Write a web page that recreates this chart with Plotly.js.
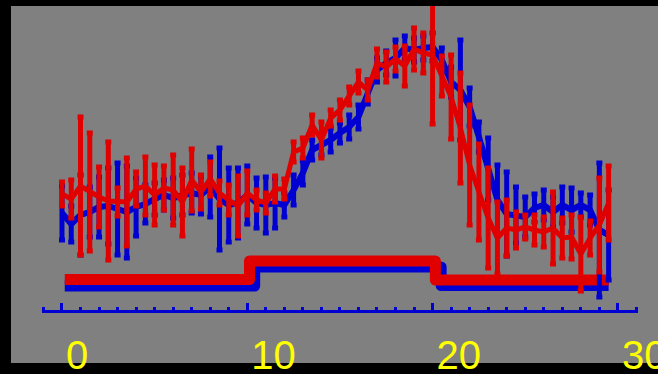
<!DOCTYPE html>
<html>
<head>
<meta charset="utf-8">
<script src="https://cdn.plot.ly/plotly-3.0.1.min.js"></script>
<style>
  html, body { margin: 0; padding: 0; background: #000; }
  #chart { width: 658px; height: 374px; }
  .tracestepred .js-line, .tracestepblue .js-line { stroke-linejoin: round; }
</style>
</head>
<body>
<div id="chart"></div>
<script>
// Sample times (one sample every half unit)
const times = [
  0, 0.5, 1, 1.5, 2, 2.5, 3, 3.5, 4, 4.5,
  5, 5.5, 6, 6.5, 7, 7.5, 8, 8.5, 9, 9.5,
  10, 10.5, 11, 11.5, 12, 12.5, 13, 13.5, 14, 14.5,
  15, 15.5, 16, 16.5, 17, 17.5, 18, 18.5, 19, 19.5,
  20, 20.5, 21, 21.5, 22, 22.5, 23, 23.5, 24, 24.5,
  25, 25.5, 26, 26.5, 27, 27.5, 28, 28.5, 29, 29.5
];

// Blue response: mean and error
const blueMean = [
  9.85, 8.75, 9.65, 9.95, 10.45, 10.55, 10.25, 9.95, 10.45, 10.75,
  11.25, 11.65, 11.35, 11.65, 11.85, 11.65, 12.45, 11.25, 10.65, 10.85,
  11.65, 10.85, 10.65, 10.85, 10.65, 12.15, 13.85, 16.15, 16.65, 17.15,
  17.85, 18.45, 19.45, 21.95, 24.15, 24.85, 25.35, 26.35, 26.15, 26.35,
  26.45, 25.15, 22.95, 22.15, 20.45, 17.45, 14.25, 11.15, 9.75, 9.65,
  9.45, 10.35, 10.65, 9.95, 10.65, 10.15, 10.65, 10.15, 8.15, 7.65
];
const blueErr = [
  2.7, 1.8, 4.0, 2.5, 3.0, 3.8, 4.6, 4.6, 2.9, 1.9,
  1.6, 1.5, 2.0, 2.0, 2.0, 1.9, 3.0, 5.1, 3.7, 3.5,
  2.9, 2.5, 2.8, 2.5, 1.2, 1.5, 1.2, 1.0, 1.0, 1.2,
  1.0, 1.2, 1.2, 1.2, 1.2, 1.2, 1.8, 1.2, 1.2, 1.2,
  1.4, 1.2, 1.5, 5.0, 1.9, 1.5, 3.1, 3.5, 4.2, 2.8,
  2.0, 1.4, 1.5, 1.5, 1.8, 2.2, 1.2, 1.5, 6.7, 4.5
];

// Red response: mean and error
const redMean = [
  11.75, 11.25, 12.55, 11.95, 11.45, 11.05, 10.95, 10.95, 12.25, 12.55,
  11.65, 12.35, 12.15, 10.95, 13.15, 11.95, 13.25, 11.85, 11.15, 10.55,
  11.85, 11.15, 10.85, 12.25, 12.25, 15.95, 16.35, 18.65, 17.15, 19.35,
  20.15, 21.55, 22.95, 22.15, 24.85, 24.45, 25.25, 24.55, 26.25, 25.85,
  25.65, 23.55, 21.45, 18.35, 14.65, 11.95, 9.35, 7.35, 8.35, 8.15,
  8.45, 8.15, 7.95, 8.35, 7.35, 7.45, 5.75, 7.35, 8.65, 10.85
];
const redErr = [
  1.2, 1.9, 6.9, 5.9, 3.0, 5.9, 1.4, 4.4, 1.7, 2.9,
  3.0, 2.2, 3.5, 3.4, 3.1, 1.7, 1.7, 1.2, 1.5, 3.0,
  2.2, 1.0, 1.0, 1.3, 1.0, 1.0, 1.0, 1.0, 1.8, 0.8,
  1.0, 0.9, 1.1, 1.0, 1.4, 1.5, 1.2, 2.0, 2.1, 2.0,
  6.9, 2.0, 4.2, 5.5, 6.0, 4.8, 5.0, 3.6, 2.8, 1.8,
  1.2, 1.5, 1.5, 3.6, 2.0, 2.2, 3.7, 1.7, 4.7, 3.7
];

// Stimulus steps (on from about 10 to 20)
const blueStepX = [0.15, 10.4, 20.46, 29.5];
const blueStepY = [2.55, 4.45, 2.6, 2.6];
const redStepX = [0.15, 10.12, 20.15, 29.5];
const redStepY = [3.2, 5.05, 3.15, 3.15];

// Axis ticks
const tickVals = [0, 10, 20, 30];
const tickText = ['0', '10', '20', '30'];

const BLUE = '#0000d2';
const RED = '#e00000';

function stepTrace(x, y, color, uid) {
  return {
    x: x, y: y, type: 'scatter', mode: 'lines', uid: uid,
    line: { color: color, width: 11, shape: 'hv' },
    hoverinfo: 'skip'
  };
}

function seriesTrace(y, err, color, lw) {
  return {
    x: times, y: y, type: 'scatter', mode: 'lines',
    line: { color: color, width: lw },
    error_y: { type: 'data', array: err, visible: true, color: color, thickness: 5, width: 3 },
    hoverinfo: 'skip'
  };
}

const data = [
  stepTrace(blueStepX, blueStepY, BLUE, 'stepblue'),
  stepTrace(redStepX, redStepY, RED, 'stepred'),
  seriesTrace(blueMean, blueErr, BLUE, 6),
  seriesTrace(redMean, redErr, RED, 5)
];

const layout = {
  width: 658,
  height: 374,
  paper_bgcolor: '#000000',
  plot_bgcolor: 'rgba(0,0,0,0)',
  margin: { l: 11, r: 0, t: 6, b: 11, pad: 0 },
  showlegend: false,
  shapes: [{
    type: 'rect', xref: 'paper', yref: 'paper',
    x0: 0, x1: 1, y0: 0, y1: 1,
    fillcolor: '#808080', line: { width: 0 }, layer: 'below'
  }],
  xaxis: {
    domain: [0.0473, 0.9695],
    range: [-1.1, 31.1],
    anchor: 'free',
    position: 0.1443,
    showline: true, linecolor: BLUE, linewidth: 3,
    showgrid: false, zeroline: false,
    ticks: 'inside', ticklen: 7, tickwidth: 3, tickcolor: BLUE,
    tickmode: 'array', tickvals: tickVals, ticktext: tickText,
    minor: { ticks: 'inside', ticklen: 3, tickwidth: 3, tickcolor: BLUE, tick0: 0, dtick: 1, showgrid: false },
    tickfont: { family: 'Liberation Sans, Arial, sans-serif', size: 40, color: '#ffff00' },
    ticklabelposition: 'outside right',
    ticklabeloverflow: 'allow',
    ticklabelstandoff: 8,
    ticklabelshift: 1,
    fixedrange: true
  },
  yaxis: {
    range: [-5.15, 30.55],
    visible: false,
    fixedrange: true
  }
};

Plotly.newPlot('chart', data, layout, { staticPlot: true, displayModeBar: false });
</script>
</body>
</html>
